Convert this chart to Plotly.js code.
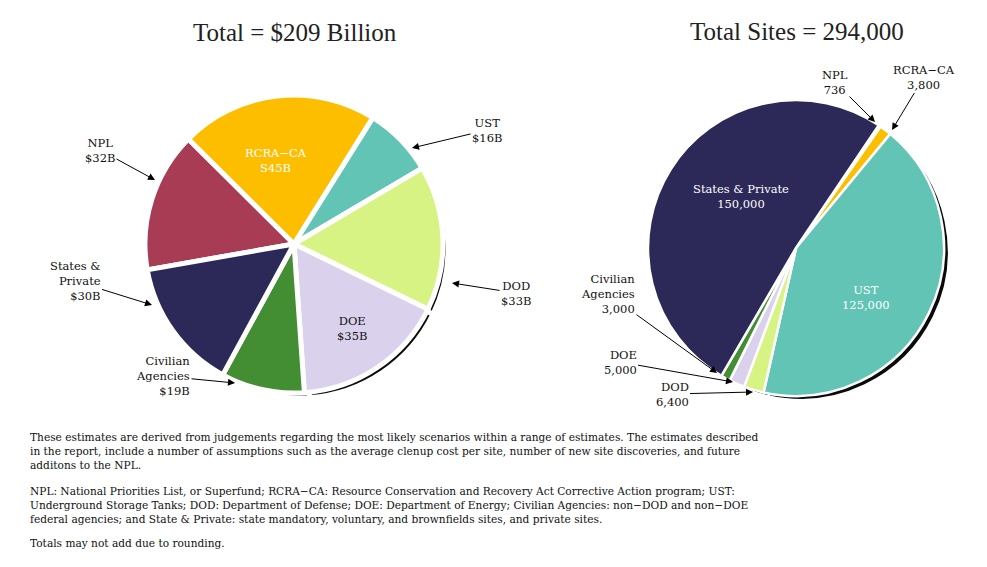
<!DOCTYPE html>
<html>
<head>
<meta charset="utf-8">
<script src="https://cdn.plot.ly/plotly-3.0.1.min.js"></script>
<style>html,body{margin:0;padding:0;background:#fff;}#chart{width:987px;height:567px;}</style>
</head>
<body>
<div id="chart"></div>
<script>
// ---- data ----
const categories = ["NPL", "RCRA-CA", "UST", "DOD", "DOE", "Civilian Agencies", "States & Private"];
const costBillions = [32, 45, 16, 33, 35, 19, 30];
const costLabels = ["$32B", "S45B", "$16B", "$33B", "$35B", "$19B", "$30B"];
const siteCounts = [736, 3800, 125000, 6400, 5000, 3000, 150000];
const siteLabels = ["736", "3,800", "125,000", "6,400", "5,000", "3,000", "150,000"];
const displayNames = ["NPL", "RCRA\u2212CA", "UST", "DOD", "DOE", "Civilian<br>Agencies", "States &amp;<br>Private"];
const displayNamesOneLine = ["NPL", "RCRA\u2212CA", "UST", "DOD", "DOE", "Civilian<br>Agencies", "States &amp; Private"];
const sliceColors = ["#A93C55", "#FDBE00", "#61C4B4", "#D7F383", "#DAD1EC", "#438D33", "#2C2857"];
const leftTitle = "Total = $209 Billion";
const rightTitle = "Total Sites = 294,000";
const footnoteLines = [
  "These estimates are derived from judgements regarding the most likely scenarios within a range of estimates. The estimates described",
  "in the report, include a number of assumptions such as the average clenup cost per site, number of new site discoveries, and future",
  "additons to the NPL.",
  "NPL: National Priorities List, or Superfund; RCRA\u2212CA: Resource Conservation and Recovery Act Corrective Action program; UST:",
  "Underground Storage Tanks; DOD: Department of Defense; DOE: Department of Energy; Civilian Agencies: non\u2212DOD and non\u2212DOE",
  "federal agencies; and State &amp; Private: state mandatory, voluntary, and brownfields sites, and private sites.",
  "Totals may not add due to rounding."
];

// ---- layout helpers ----
const W = 987, H = 567;
const fx = x => x / W;
const fy = y => 1 - y / H;
function dom(cx, cy, r, dx, dy) {
  return { x: [fx(cx - r + dx), fx(cx + r + dx)], y: [fy(cy + r + dy), fy(cy - r + dy)] };
}
const TFONT = "Liberation Serif, Times New Roman, serif";
const FONT = "DejaVu Serif, serif";

function pie(values, d, rot, colors, lw) {
  return {
    type: "pie", values: values, labels: categories, sort: false, direction: "clockwise",
    rotation: rot, domain: d, textinfo: "none", hoverinfo: "skip", showlegend: false,
    marker: { colors: colors, line: { color: "#ffffff", width: lw } }
  };
}
const shadow = categories.map(() => "#0a0a0a");
const L = { cx: 294, cy: 244, r: 149 }, R = { cx: 796, cy: 248, r: 148 };
const data = [
  pie(costBillions, dom(L.cx, L.cy, L.r, 5, 5), -100, shadow, 5),
  pie(costBillions, dom(L.cx, L.cy, L.r, 0, 0), -100, sliceColors, 5),
  pie(siteCounts, dom(R.cx, R.cy, R.r, 5, 4), 34, shadow, 2.5),
  pie(siteCounts, dom(R.cx, R.cy, R.r, 0, 0), 34, sliceColors, 2.5)
];

const lblFont = { family: FONT, size: 11.5, color: "#111" };
function arrowLbl(text, hx, hy, tx, ty, align) {
  return { xref: "paper", yref: "paper", x: fx(hx), y: fy(hy), ax: tx - hx, ay: ty - hy,
    text: text, showarrow: true, arrowhead: 2, arrowsize: 1.4, arrowwidth: 1, arrowcolor: "#000",
    align: align || "center", font: lblFont };
}
function inLbl(text, x, y, color) {
  return { xref: "paper", yref: "paper", x: fx(x), y: fy(y), xanchor: "center", yanchor: "middle",
    text: text, showarrow: false, font: { family: FONT, size: 11.5, color: color } };
}
const annotations = [
  { xref: "paper", yref: "paper", x: fx(295), y: fy(33), xanchor: "center", yanchor: "middle", text: leftTitle,
    showarrow: false, font: { family: TFONT, size: 25, color: "#222" } },
  { xref: "paper", yref: "paper", x: fx(797), y: fy(31), xanchor: "center", yanchor: "middle", text: rightTitle,
    showarrow: false, font: { family: TFONT, size: 25, color: "#222" } },
  // left pie
  arrowLbl(displayNames[0] + "<br>" + costLabels[0], 155, 180, 100, 150),
  inLbl(displayNames[1] + "<br>" + costLabels[1], 276, 160, "#ffffff"),
  arrowLbl(displayNames[2] + "<br>" + costLabels[2], 412, 148, 487, 130),
  arrowLbl(displayNames[3] + "<br>" + costLabels[3], 452, 283, 516, 293),
  inLbl(displayNames[4] + "<br>" + costLabels[4], 352, 328, "#111"),
  arrowLbl(displayNames[5] + "<br>" + costLabels[5], 235, 383, 163, 376, "right"),
  arrowLbl(displayNames[6] + "<br>" + costLabels[6], 152, 305, 75, 281, "right"),
  // right pie
  arrowLbl(displayNamesOneLine[0] + "<br>" + siteLabels[0], 875, 122, 835, 82),
  arrowLbl(displayNamesOneLine[1] + "<br>" + siteLabels[1], 892, 130, 924, 77),
  inLbl(displayNamesOneLine[2] + "<br>" + siteLabels[2], 866, 297, "#ffffff"),
  arrowLbl(displayNamesOneLine[3] + "<br>" + siteLabels[3], 753, 392, 672, 394, "right"),
  arrowLbl(displayNamesOneLine[4] + "<br>" + siteLabels[4], 733, 382, 620, 362, "right"),
  arrowLbl(displayNamesOneLine[5] + "<br>" + siteLabels[5], 717, 373, 608, 294, "right"),
  inLbl(displayNamesOneLine[6] + "<br>" + siteLabels[6], 741, 197, "#ffffff")
];
const footY = [437, 451, 465, 491, 505, 519, 543];
footnoteLines.forEach((t, i) => {
  annotations.push({ xref: "paper", yref: "paper", x: fx(28), y: fy(footY[i]), xanchor: "left", yanchor: "middle",
    text: t, showarrow: false, font: { family: FONT, size: 10.6, color: "#111" } });
});

const layout = {
  width: W, height: H, margin: { l: 0, r: 0, t: 0, b: 0 },
  paper_bgcolor: "#ffffff", plot_bgcolor: "#ffffff", showlegend: false,
  annotations: annotations
};
Plotly.newPlot("chart", data, layout, { displayModeBar: false, staticPlot: true });
</script>
</body>
</html>
